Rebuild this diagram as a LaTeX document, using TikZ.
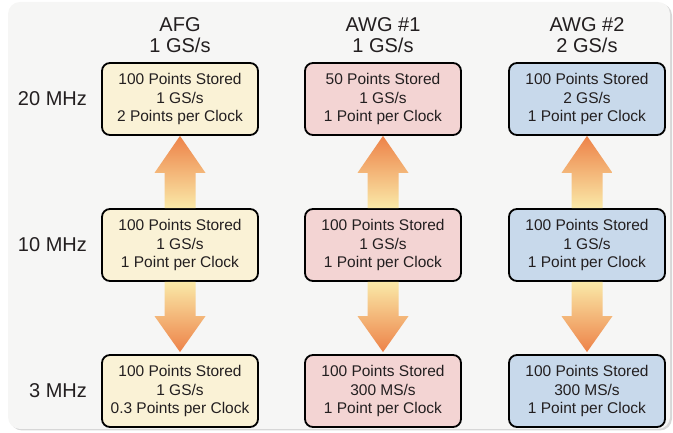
\documentclass[tikz,border=0pt]{standalone}
\usepackage{fontspec}
\setmainfont{Liberation Sans}
\usetikzlibrary{positioning,calc}

\definecolor{afgfill}{RGB}{250,242,214}
\definecolor{awgafill}{RGB}{243,212,211}
\definecolor{awgbfill}{RGB}{200,217,235}
\definecolor{panelgray}{RGB}{246,246,245}
\definecolor{panelshadow}{RGB}{215,215,215}
\definecolor{textgray}{RGB}{35,31,32}
\definecolor{tipcol}{RGB}{237,130,72}
\definecolor{basecol}{RGB}{250,233,168}

\begin{document}
\begin{tikzpicture}[x=1pt,y=1pt,node distance=146pt,
    box/.style={draw=black,line width=1.8pt,rounded corners=8pt,minimum width=156pt,
      minimum height=72pt,align=center,inner sep=2pt,text=textgray,
      font=\fontsize{15.5}{18.5}\selectfont},
    rowlabel/.style={font=\fontsize{20}{22}\selectfont,text=textgray,inner sep=0pt},
    colhead/.style={font=\fontsize{20}{21}\selectfont,text=textgray,align=center,inner sep=0pt},
    uparrow/.style={top color=tipcol,bottom color=basecol},
    downarrow/.style={top color=basecol,bottom color=tipcol}]
    \useasboundingbox (0,0) rectangle (673,433);
    % panel
    \fill[panelshadow,rounded corners=12pt] (10,2.5) rectangle (672,429.5);
    \fill[panelgray,rounded corners=12pt] (8,4) rectangle (670,431);

    % boxes
    \node[box,fill=afgfill] (afg20) at (180,334) {100 Points Stored\\1 GS/s\\2 Points per Clock};
    \node[box,fill=afgfill] (afg10) [below of=afg20] {100 Points Stored\\1 GS/s\\1 Point per Clock};
    \node[box,fill=afgfill] (afg3) [below of=afg10] {100 Points Stored\\1 GS/s\\0.3 Points per Clock};
    \node[box,fill=awgafill] (awga20) [node distance=203pt,right of=afg20] {50 Points Stored\\1 GS/s\\1 Point per Clock};
    \node[box,fill=awgafill] (awga10) [below of=awga20] {100 Points Stored\\1 GS/s\\1 Point per Clock};
    \node[box,fill=awgafill] (awga3) [below of=awga10] {100 Points Stored\\300 MS/s\\1 Point per Clock};
    \node[box,fill=awgbfill] (awgb20) [node distance=204pt,right of=awga20] {100 Points Stored\\2 GS/s\\1 Point per Clock};
    \node[box,fill=awgbfill] (awgb10) [below of=awgb20] {100 Points Stored\\1 GS/s\\1 Point per Clock};
    \node[box,fill=awgbfill] (awgb3) [below of=awgb10] {100 Points Stored\\300 MS/s\\1 Point per Clock};

    % headings
    \node[colhead] (hafg) [above=9pt of afg20] {AFG\\1 GS/s};
    \node[colhead] (hawga) [above=9pt of awga20] {AWG \#1\\1 GS/s};
    \node[colhead] (hawgb) [above=9pt of awgb20] {AWG \#2\\2 GS/s};
    \node[rowlabel] (r20) [left=14pt of afg20] {20 MHz};
    \node[rowlabel] (r10) [left=14pt of afg10] {10 MHz};
    \node[rowlabel] (r3) [left=14pt of afg3] {3 MHz};

    % arrows up
    \shade[uparrow] (afg20.south) -- ($(afg20.south)+(25.5,-37)$) -- ($(afg20.south)+(15.5,-37)$)
      -- ($(afg10.north)+(15.5,0)$) -- ($(afg10.north)+(-15.5,0)$)
      -- ($(afg20.south)+(-15.5,-37)$) -- ($(afg20.south)+(-25.5,-37)$) -- cycle;
    \shade[uparrow] (awga20.south) -- ($(awga20.south)+(25.5,-37)$) -- ($(awga20.south)+(15.5,-37)$)
      -- ($(awga10.north)+(15.5,0)$) -- ($(awga10.north)+(-15.5,0)$)
      -- ($(awga20.south)+(-15.5,-37)$) -- ($(awga20.south)+(-25.5,-37)$) -- cycle;
    \shade[uparrow] (awgb20.south) -- ($(awgb20.south)+(25.5,-37)$) -- ($(awgb20.south)+(15.5,-37)$)
      -- ($(awgb10.north)+(15.5,0)$) -- ($(awgb10.north)+(-15.5,0)$)
      -- ($(awgb20.south)+(-15.5,-37)$) -- ($(awgb20.south)+(-25.5,-37)$) -- cycle;
    % arrows down
    \shade[downarrow] ($(afg10.south)+(-15.5,0)$) -- ($(afg10.south)+(15.5,0)$)
      -- ($(afg3.north)+(15.5,38)$) -- ($(afg3.north)+(25.5,38)$) -- ($(afg3.north)+(0,2)$)
      -- ($(afg3.north)+(-25.5,38)$) -- ($(afg3.north)+(-15.5,38)$) -- cycle;
    \shade[downarrow] ($(awga10.south)+(-15.5,0)$) -- ($(awga10.south)+(15.5,0)$)
      -- ($(awga3.north)+(15.5,38)$) -- ($(awga3.north)+(25.5,38)$) -- ($(awga3.north)+(0,2)$)
      -- ($(awga3.north)+(-25.5,38)$) -- ($(awga3.north)+(-15.5,38)$) -- cycle;
    \shade[downarrow] ($(awgb10.south)+(-15.5,0)$) -- ($(awgb10.south)+(15.5,0)$)
      -- ($(awgb3.north)+(15.5,38)$) -- ($(awgb3.north)+(25.5,38)$) -- ($(awgb3.north)+(0,2)$)
      -- ($(awgb3.north)+(-25.5,38)$) -- ($(awgb3.north)+(-15.5,38)$) -- cycle;
\end{tikzpicture}
\end{document}
